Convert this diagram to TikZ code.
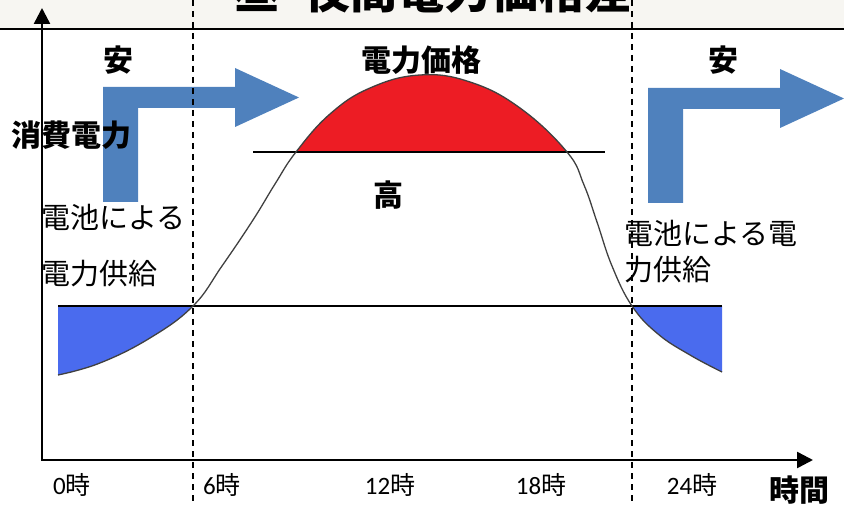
\documentclass[tikz,border=0pt]{standalone}
\usepackage{fontspec}
\setmainfont{Noto Sans CJK JP}
\newfontfamily\latin{Carlito}
\usetikzlibrary{arrows.meta}

\definecolor{arrowblue}{HTML}{4F81BD}
\definecolor{nightblue}{HTML}{4A6BEE}
\definecolor{dayred}{HTML}{ED1C24}
\definecolor{banner}{HTML}{F7F6F2}

% demand curve over the day
\def\demand{plot[smooth, tension=0.7] coordinates {(58,375) (100,363) (150,338) (193,306) (222,266) (253,220) (275,184) (296,152) (330,114) (370,88) (420,75) (470,82) (520,108) (567,152) (584,185) (597,222) (612,266) (632,306) (658,334) (690,355) (722,372)}}

\begin{document}
\begin{tikzpicture}
  [
    x = 1pt, y = -1pt,
    every node/.style = {inner sep=0pt},
    bigtext/.style = {font=\fontsize{30}{36}\selectfont\bfseries},
    supply/.style = {font=\fontsize{29}{34}\selectfont, anchor=west},
    hourlabel/.style = {font=\fontsize{25}{30}\selectfont},
    axisline/.style = {line width=2.5pt, {Triangle[length=16pt,width=16pt]}-{Triangle[length=16pt,width=16pt]}},
    threshold/.style = {line width=1.5pt},
    divider/.style = {line width=1.3pt, dash pattern=on 6pt off 5pt},
    turnarrow/.pic = {
      \fill[arrowblue] (0,0) -- (0,-115) -- (132,-115) -- (132,-134) -- (196,-104.5)
        -- (132,-75) -- (132,-94) -- (35,-94) -- (35,0) -- cycle;
    }
  ]
  \useasboundingbox (0,0) rectangle (844,505);

  % title strip
  \fill[banner] (0,0) rectangle (844,29);
  \draw[line width=1.5pt] (0,29) -- (844,29);
  \node[font=\fontsize{47}{50}\selectfont\bfseries, anchor=base] (title) at (433,9) {昼･夜間電力価格差};

  % fills
  \begin{scope}
    \clip (0,0) rectangle (844,152);
    \fill[dayred] \demand -- cycle;
  \end{scope}
  \begin{scope}
    \clip (0,306) rectangle (844,505);
    \fill[nightblue] \demand -- (722,306) -- (58,306) -- cycle;
  \end{scope}

  \draw[threshold] (253,152) -- (605,152);
  \draw[threshold] (58,306) -- (722,306);
  \draw[line width=1.3pt, black!75] \demand;

  % price arrows
  \pic at (103,202) {turnarrow};
  \pic at (648,203) {turnarrow};

  % time marks
  \draw[divider] (193,0) -- (193,505);
  \draw[divider] (632,0) -- (632,505);

  % axes
  \coordinate (origin) at (42,460);
  \coordinate (ytop) at (42,8);
  \coordinate (xend) at (813,460);
  \draw[axisline] (ytop) -- (origin) -- (xend);

  % labels
  \node[bigtext] (cheapL) at (118,60) {安};
  \node[bigtext] (cheapR) at (723,60) {安};
  \node[bigtext] (price) at (421,60) {電力価格};
  \node[bigtext] (high) at (388,195) {高};
  \node[bigtext] (power) at (72,135) {消費電力};
  \node[bigtext] (timeaxis) at (799,490) {時間};

  \node[supply] (battL1) at (41,217) {電池による};
  \node[supply] (battL2) at (41,274) {電力供給};
  \node[supply] (battR1) at (624,233) {電池による電};
  \node[supply] (battR2) at (624,270) {力供給};

  \node[hourlabel] (h0) at (72,485) {{\latin 0}時};
  \node[hourlabel] (h6) at (222,485) {{\latin 6}時};
  \node[hourlabel] (h12) at (390,485) {{\latin 12}時};
  \node[hourlabel] (h18) at (541,485) {{\latin 18}時};
  \node[hourlabel] (h24) at (692,485) {{\latin 24}時};
\end{tikzpicture}
\end{document}
